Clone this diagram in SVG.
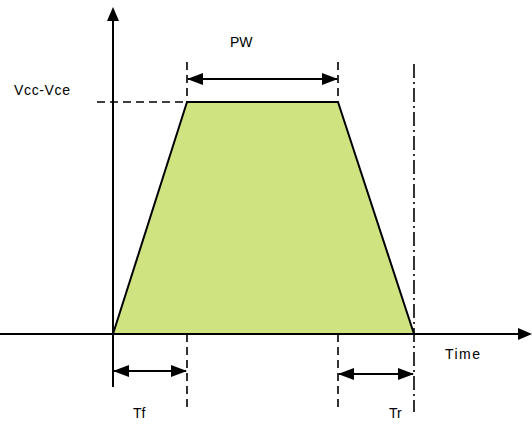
<svg xmlns="http://www.w3.org/2000/svg" width="532" height="432" viewBox="0 0 532 432">
<style>
text{font-family:"Liberation Sans",Arial,sans-serif;font-size:14px;fill:#000}
.ln{stroke:#000;stroke-width:2;fill:none}
.dash{stroke:#000;stroke-width:1.6;stroke-dasharray:8,5;fill:none}
.dd{stroke:#000;stroke-width:1.6;stroke-dasharray:14,4,2,4;fill:none}
</style>
<defs>
<marker id="ah" viewBox="0 0 16 12" refX="15" refY="6" markerWidth="16" markerHeight="12" markerUnits="userSpaceOnUse" orient="auto-start-reverse">
<path d="M0,0 L16,6 L0,12 Z" fill="#000"/>
</marker>
</defs>
<g id="pulse">
<polygon points="113,334 187,102 338,102 414,334" fill="#cfe481" stroke="#000" stroke-width="2" stroke-linejoin="round"/>
</g>
<g id="axes">
<line class="ln" x1="113" y1="387" x2="113" y2="20"/>
<polygon points="113,7 107,21 119,21" fill="#000"/>
<line class="ln" x1="0" y1="334" x2="520" y2="334"/>
<polygon points="532,334 518,328 518,340" fill="#000"/>
</g>
<g id="guides">
<line class="dash" x1="97" y1="102" x2="187" y2="102"/>
<line class="dash" x1="187" y1="62" x2="187" y2="102"/>
<line class="dash" x1="338" y1="62" x2="338" y2="102"/>
<line class="dash" x1="187" y1="334" x2="187" y2="408"/>
<line class="dash" x1="338" y1="334" x2="338" y2="408"/>
<line class="dd" x1="414" y1="64" x2="414" y2="412"/>
</g>
<g id="connectors">
<line class="ln" x1="188" y1="79" x2="337" y2="79" marker-start="url(#ah)" marker-end="url(#ah)"/>
<line class="ln" x1="114" y1="371" x2="186" y2="371" marker-start="url(#ah)" marker-end="url(#ah)"/>
<line class="ln" x1="339" y1="374" x2="413" y2="374" marker-start="url(#ah)" marker-end="url(#ah)"/>
</g>
<g id="labels">
<text x="14" y="95" textLength="56">Vcc-Vce</text>
<text x="230" y="47">PW</text>
<text x="445" y="359" textLength="35">Time</text>
<text x="133" y="418">Tf</text>
<text x="389" y="418">Tr</text>
</g>
</svg>
